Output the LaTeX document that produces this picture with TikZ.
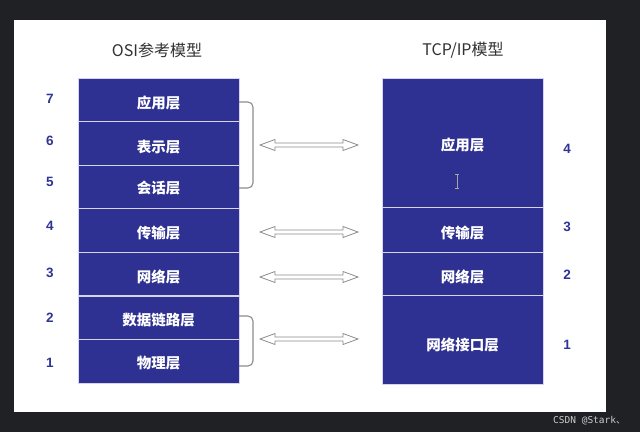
\documentclass[tikz,border=0pt]{standalone}
\usepackage{fontspec}
\setmainfont{Liberation Sans}
\newfontfamily\cjk{Noto Sans CJK SC}
\newfontfamily\wm{DejaVu Sans Mono}
\definecolor{bgdark}{RGB}{32,33,36}
\definecolor{osiblue}{RGB}{46,49,146}
\definecolor{numblue}{RGB}{48,52,150}
\definecolor{titlegray}{RGB}{50,50,50}
\definecolor{arrowgray}{RGB}{140,140,140}
% #1: how far below the node centre the glyph centre sits
\newcommand{\lowtext}[2]{\raisebox{\dimexpr-5.5pt-#1\relax}[0pt][0pt]{#2}}
\tikzset{
  layer/.style={draw=white!80!osiblue, line width=0.8pt, fill=osiblue, minimum width=161pt, inner sep=0pt,
    text=white, font=\cjk\bfseries\fontsize{14.5}{16}\selectfont},
  num/.style={text=numblue, font=\bfseries\fontsize{13.5}{15}\selectfont, inner sep=0pt},
  title/.style={text=titlegray, font=\cjk\fontsize{16}{18}\selectfont, inner sep=0pt},
  hollowarrow/.style={draw=arrowgray, fill=white, line width=0.8pt, line join=miter},
  bracket/.style={draw=arrowgray, line width=1.1pt, rounded corners=5pt}
}
\newcommand{\hollowdbl}[1]{%
  \draw[hollowarrow] (#1) ++(-49,0) -- ++(15,-5.5) -- ++(0,3.5) -- ++(68,0) -- ++(0,-3.5)
    -- ++(15,5.5) -- ++(-15,5.5) -- ++(0,-3.5) -- ++(-68,0) -- ++(0,3.5) -- cycle;}
\begin{document}
\begin{tikzpicture}[x=1pt,y=-1pt]
\fill[bgdark] (0,0) rectangle (640,432);
\useasboundingbox (0,0) rectangle (640,432);
\fill[white] (14,20) rectangle (606,412);
% titles
\node[title] (t1) at (157,50) {OSI参考模型};
\node[title] (t2) at (463,50) {TCP/IP模型};
% OSI layers
\node[layer, minimum height=43.57pt] (o7) at (158.5,99.8) {\lowtext{3pt}{应用层}};
\node[layer, minimum height=43.57pt] (o6) at (158.5,143.4) {\lowtext{3.5pt}{表示层}};
\node[layer, minimum height=43.57pt] (o5) at (158.5,186.9) {\lowtext{1pt}{会话层}};
\node[layer, minimum height=43.57pt] (o4) at (158.5,230.5) {\lowtext{2.5pt}{传输层}};
\node[layer, minimum height=43.57pt] (o3) at (158.5,274.1) {\lowtext{3pt}{网络层}};
\node[layer, minimum height=43.57pt] (o2) at (158.5,317.7) {\lowtext{2.5pt}{数据链路层}};
\node[layer, minimum height=43.57pt] (o1) at (158.5,361.2) {\lowtext{2pt}{物理层}};
% TCP/IP layers
\node[layer, minimum height=129pt] (p4) at (462.5,142.5) {\lowtext{2.5pt}{应用层}};
\node[layer, minimum height=45pt] (p3) at (462.5,229.5) {\lowtext{3.5pt}{传输层}};
\node[layer, minimum height=43pt] (p2) at (462.5,273.5) {\lowtext{3.5pt}{网络层}};
\node[layer, minimum height=89pt] (p1) at (462.5,339.5) {\lowtext{5.5pt}{网络接口层}};
% cursor
\draw[gray!70, line width=0.9pt] (455,174) -- (459,174) (457,174) -- (457,188) (455,188) -- (459,188);
% numbers
\node[num] (n7) at (50,99) {7};
\node[num] (n6) at (50,141) {6};
\node[num] (n5) at (50,182) {5};
\node[num] (n4) at (50,226) {4};
\node[num] (n3) at (50,273) {3};
\node[num] (n2) at (50,318) {2};
\node[num] (n1) at (50,363) {1};
\node[num] (m4) at (567,149) {4};
\node[num] (m3) at (567,227) {3};
\node[num] (m2) at (567,275) {2};
\node[num] (m1) at (567,345) {1};
% brackets
\coordinate (b1a) at (239,102);
\coordinate (b1b) at (239,188);
\coordinate (b2a) at (239,316);
\coordinate (b2b) at (239,366);
\draw[bracket] (b1a) -- (253,102) -- (253,188) -- (b1b);
\draw[bracket] (b2a) -- (253,316) -- (253,366) -- (b2b);
% arrows
\coordinate (a1) at (309,145);
\coordinate (a2) at (309,232);
\coordinate (a3) at (309,277);
\coordinate (a4) at (309,339);
\hollowdbl{a1}
\hollowdbl{a2}
\hollowdbl{a3}
\hollowdbl{a4}
% watermark
\node[text=white!80!black, font=\wm\fontsize{9.5}{11}\selectfont, anchor=west, inner sep=0pt] (wm) at (553,421) {CSDN @Stark{\cjk 、}};
\end{tikzpicture}
\end{document}
